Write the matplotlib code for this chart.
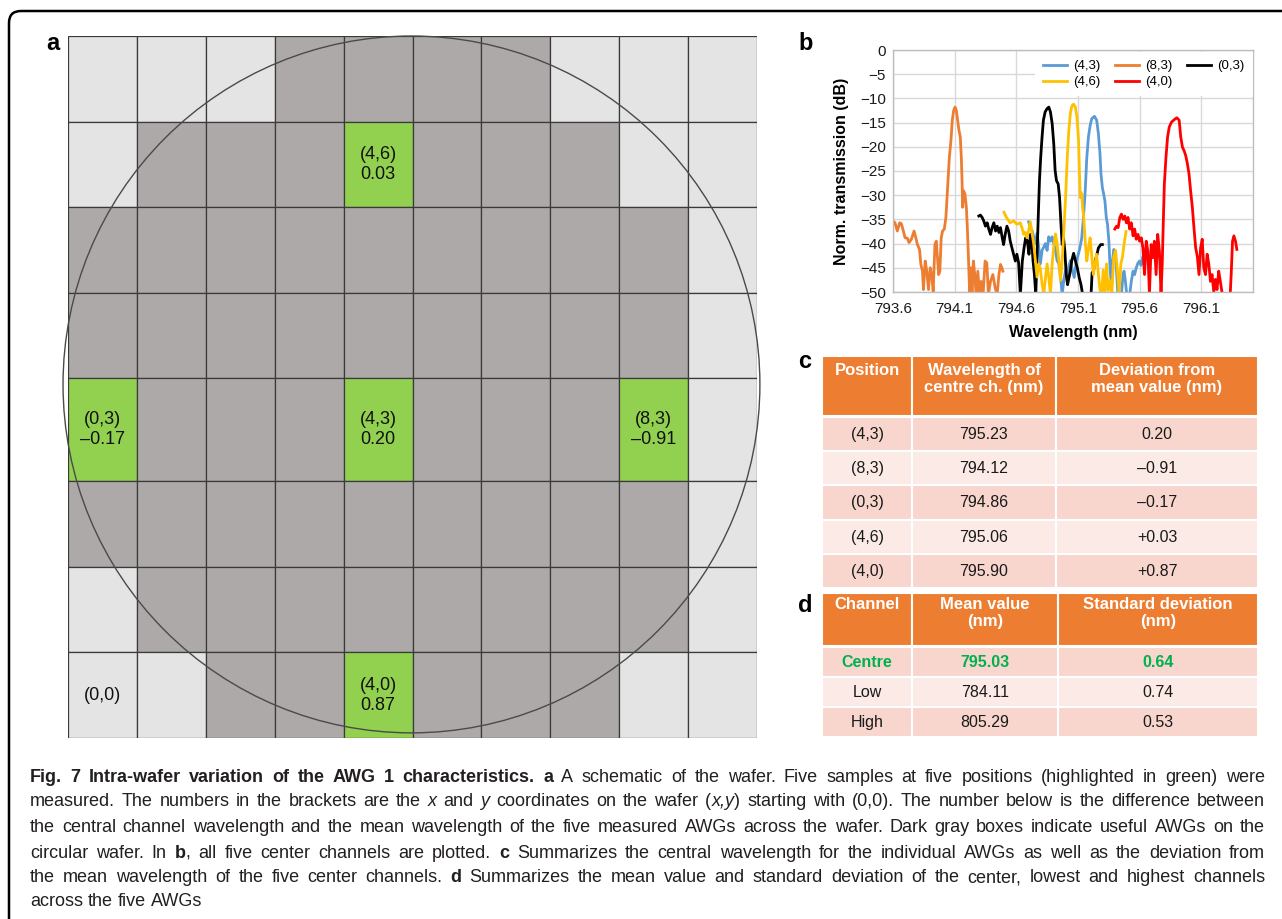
import re
import numpy as np
import matplotlib
matplotlib.use("Agg")
import matplotlib.pyplot as plt
from matplotlib.patches import Rectangle, Ellipse, FancyBboxPatch
from matplotlib.ticker import FormatStrFormatter, MultipleLocator

plt.rcParams['font.family'] = ['Liberation Sans', 'DejaVu Sans']

W, H = 1282, 919

# ---------------- panel a: wafer map (rows top -> bottom; L = unused, D = useful AWG, G = measured)
wafer_rows = [
    "LLLDDDDLLL",  # y = 7
    "LDDDGDDDLL",  # y = 6
    "DDDDDDDDDL",  # y = 5
    "DDDDDDDDDL",  # y = 4
    "GDDDGDDDGL",  # y = 3
    "DDDDDDDDDL",  # y = 2
    "LDDDDDDDDL",  # y = 1
    "LLDDGDDDLL",  # y = 0
]
row_heights = [1, 1, 1, 1.2, 1, 1, 1, 1]  # y = 0 .. 7

# ---------------- panel c
positions = ['(4,3)', '(8,3)', '(0,3)', '(4,6)', '(4,0)']
pos_x = [4, 8, 0, 4, 4]
pos_y = [3, 3, 3, 6, 0]
centre_wl = [795.23, 794.12, 794.86, 795.06, 795.90]
deviation = ['0.20', '–0.91', '–0.17', '+0.03', '+0.87']

# ---------------- panel d
channels = ['Centre', 'Low', 'High']
mean_wl = [795.03, 784.11, 805.29]
std_wl = [0.64, 0.74, 0.53]

# ---------------- panel b: spectra of the five centre channels
wl_43 = [794.700, 794.714, 794.728, 794.741, 794.755, 794.768, 794.782, 794.795, 794.809, 794.823,
         794.836, 794.850, 794.863, 794.877, 794.891, 794.904, 794.918, 794.931, 794.945, 794.959,
         794.972, 794.986, 795.000, 795.013, 795.027, 795.040, 795.054, 795.070, 795.085, 795.100,
         795.115, 795.130, 795.145, 795.159, 795.172, 795.185, 795.199, 795.212, 795.234, 795.252,
         795.266, 795.279, 795.287, 795.298, 795.309, 795.319, 795.330, 795.340, 795.351, 795.362,
         795.373, 795.380, 795.391, 795.402, 795.413, 795.424, 795.440, 795.453, 795.466, 795.474,
         795.485, 795.496, 795.510, 795.520, 795.533, 795.547, 795.560, 795.573, 795.587, 795.600,
         795.612, 795.625]
db_43 = [-35.5, -36.6, -37.3, -38.6, -40.0, -37.9, -40.7, -44.2, -41.4, -40.7,
         -40.0, -41.4, -38.6, -39.5, -38.6, -40.0, -41.4, -43.5, -44.2, -46.9,
         -50.5, -47.5, -45.5, -46.9, -44.5, -43.5, -45.5, -47.0, -44.0, -42.5,
         -41.0, -39.0, -34.6, -29.1, -22.2, -18.0, -15.6, -14.2, -13.7, -14.5,
         -17.3, -21.5, -25.6, -28.4, -29.8, -31.2, -34.6, -36.0, -39.5, -45.7,
         -48.5, -43.6, -41.2, -41.6, -45.7, -50.5, -51.5, -50.5, -46.4, -45.7,
         -47.8, -50.5, -51.0, -50.5, -47.8, -45.7, -46.4, -45.0, -44.0, -43.6,
         -44.5, -42.9]

wl_83 = [793.600, 793.616, 793.635, 793.654, 793.668, 793.684, 793.698, 793.717, 793.730, 793.749,
         793.771, 793.785, 793.798, 793.815, 793.826, 793.839, 793.847, 793.861, 793.874, 793.888,
         793.902, 793.915, 793.926, 793.940, 793.951, 793.961, 793.970, 793.980, 793.991, 794.002,
         794.016, 794.029, 794.043, 794.057, 794.070, 794.081, 794.092, 794.103, 794.114, 794.124,
         794.135, 794.146, 794.154, 794.160, 794.165, 794.173, 794.184, 794.195, 794.203, 794.211,
         794.222, 794.233, 794.241, 794.252, 794.263, 794.274, 794.288, 794.301, 794.315, 794.331,
         794.347, 794.361, 794.374, 794.391, 794.410, 794.429, 794.445, 794.459, 794.472, 794.483,
         794.491]
db_83 = [-35.3, -35.7, -37.4, -35.7, -35.9, -37.4, -38.8, -38.9, -39.8, -39.1,
         -37.4, -38.8, -40.2, -41.2, -44.3, -45.7, -49.5, -43.6, -45.7, -49.5,
         -45.0, -46.7, -49.9, -40.2, -39.5, -42.9, -46.4, -45.7, -38.8, -37.4,
         -37.0, -34.6, -28.4, -22.2, -18.7, -14.5, -12.5, -11.8, -12.5, -14.5,
         -16.6, -18.0, -22.2, -27.0, -32.5, -29.1, -29.8, -32.5, -36.7, -42.2,
         -50.5, -45.0, -50.2, -43.6, -46.4, -50.5, -45.7, -50.5, -47.8, -50.5,
         -43.6, -44.0, -50.5, -47.8, -46.4, -49.2, -50.5, -46.4, -44.3, -45.0,
         -45.7]

wl_03 = [794.296, 794.309, 794.323, 794.336, 794.350, 794.364, 794.377, 794.391, 794.404, 794.418,
         794.432, 794.445, 794.459, 794.472, 794.486, 794.497, 794.510, 794.524, 794.538, 794.551,
         794.565, 794.578, 794.592, 794.605, 794.619, 794.633, 794.649, 794.663, 794.676, 794.690,
         794.703, 794.714, 794.725, 794.736, 794.747, 794.758, 794.768, 794.777, 794.788, 794.798,
         794.809, 794.820, 794.834, 794.850, 794.864, 794.877, 794.891, 794.904, 794.915, 794.926,
         794.940, 794.951, 794.961, 794.972, 794.983, 794.994, 795.005, 795.016, 795.027, 795.038,
         795.050, 795.065, 795.080, 795.095, 795.110, 795.125, 795.138, 795.160, 795.190, 795.207,
         795.215, 795.226, 795.239, 795.252, 795.266, 795.285, 795.298]
db_03 = [-34.3, -34.1, -34.6, -35.3, -36.4, -35.7, -37.0, -38.1, -36.7, -35.7,
         -37.4, -36.4, -37.7, -36.7, -38.8, -40.2, -38.1, -36.4, -37.4, -39.5,
         -40.9, -42.2, -43.6, -42.2, -44.0, -50.5, -43.6, -40.9, -38.8, -39.5,
         -42.2, -38.1, -39.5, -43.6, -46.4, -50.5, -42.9, -35.3, -27.0, -22.2,
         -18.0, -14.5, -12.8, -12.1, -11.8, -12.8, -15.2, -19.4, -24.9, -27.0,
         -27.7, -30.5, -35.3, -40.2, -38.8, -41.6, -46.4, -48.5, -47.1, -45.7,
         -43.5, -42.0, -43.6, -45.0, -47.0, -48.5, -50.5, -52.0, -52.0, -50.2,
         -46.0, -45.7, -43.6, -42.5, -40.9, -40.2, -40.2]

wl_46 = [794.500, 794.520, 794.550, 794.578, 794.605, 794.632, 794.646, 794.660, 794.673, 794.687,
         794.700, 794.714, 794.728, 794.741, 794.755, 794.768, 794.782, 794.795, 794.809, 794.823,
         794.837, 794.850, 794.863, 794.877, 794.891, 794.904, 794.918, 794.931, 794.945, 794.959,
         794.972, 794.986, 795.000, 795.012, 795.025, 795.039, 795.052, 795.065, 795.079, 795.092,
         795.105, 795.112, 795.119, 795.126, 795.132, 795.139, 795.145, 795.159, 795.172, 795.185,
         795.199, 795.212, 795.225, 795.239, 795.252, 795.266, 795.279, 795.292, 795.305, 795.318,
         795.332, 795.345, 795.360, 795.375, 795.390, 795.405, 795.420, 795.434, 795.448, 795.461,
         795.475, 795.490]
db_46 = [-33.5, -34.6, -35.7, -35.3, -36.0, -35.7, -36.7, -38.1, -37.7, -38.8,
         -37.3, -35.5, -37.9, -40.0, -43.5, -46.9, -44.2, -45.2, -48.3, -50.5,
         -47.0, -44.2, -46.9, -50.5, -44.2, -40.7, -38.0, -40.0, -43.5, -47.6,
         -43.5, -37.3, -30.4, -23.0, -17.0, -13.0, -11.5, -11.2, -11.8, -13.9,
         -18.7, -25.0, -30.5, -29.5, -30.0, -33.0, -33.9, -39.5, -43.6, -41.0,
         -38.8, -42.5, -46.4, -44.0, -42.2, -46.4, -49.5, -50.5, -45.5, -50.5,
         -44.2, -49.7, -47.6, -50.5, -42.8, -41.4, -45.5, -50.5, -44.2, -42.8,
         -40.0, -37.5]

wl_40 = [795.399, 795.413, 795.426, 795.440, 795.453, 795.466, 795.480, 795.493, 795.506, 795.520,
         795.533, 795.547, 795.560, 795.573, 795.587, 795.600, 795.614, 795.627, 795.640, 795.654,
         795.667, 795.680, 795.694, 795.707, 795.720, 795.734, 795.747, 795.761, 795.774, 795.784,
         795.792, 795.801, 795.814, 795.827, 795.841, 795.859, 795.881, 795.902, 795.921, 795.934,
         795.948, 795.961, 795.974, 795.988, 796.001, 796.014, 796.028, 796.041, 796.055, 796.068,
         796.082, 796.095, 796.108, 796.121, 796.135, 796.148, 796.162, 796.175, 796.188, 796.202,
         796.215, 796.228, 796.242, 796.255, 796.268, 796.282, 796.300, 796.320, 796.335, 796.343,
         796.354, 796.365, 796.378, 796.389]
db_40 = [-37.0, -36.4, -36.7, -34.6, -33.9, -35.0, -34.3, -35.7, -34.6, -37.0,
         -35.7, -38.4, -37.0, -39.1, -38.1, -39.5, -38.8, -40.9, -46.4, -39.5,
         -41.6, -50.5, -40.2, -42.9, -39.5, -46.4, -38.1, -41.6, -50.5, -44.0,
         -36.0, -27.7, -22.2, -18.0, -15.9, -14.9, -14.4, -14.0, -14.5, -18.0,
         -20.1, -20.8, -21.8, -23.5, -25.6, -29.1, -32.5, -36.7, -40.9, -42.6,
         -46.4, -40.9, -39.1, -45.0, -46.4, -42.2, -44.3, -47.8, -46.4, -50.0,
         -47.4, -49.5, -45.7, -47.8, -50.0, -50.5, -53.0, -53.0, -50.5, -46.4,
         -39.5, -38.4, -39.5, -41.2]

series = [
    ('(4,3)', wl_43, db_43, '#5B9BD5'),
    ('(8,3)', wl_83, db_83, '#ED7D31'),
    ('(0,3)', wl_03, db_03, '#000000'),
    ('(4,6)', wl_46, db_46, '#FFC000'),
    ('(4,0)', wl_40, db_40, '#FF0000'),
]

caption_lines = [
    "**Fig. 7 Intra-wafer variation of the AWG 1 characteristics.** **a** A schematic of the wafer. Five samples at five positions (highlighted in green) were",
    "measured. The numbers in the brackets are the _x_ and _y_ coordinates on the wafer (_x,y_) starting with (0,0). The number below is the difference between",
    "the central channel wavelength and the mean wavelength of the five measured AWGs across the wafer. Dark gray boxes indicate useful AWGs on the",
    "circular wafer. In **b**, all five center channels are plotted. **c** Summarizes the central wavelength for the individual AWGs as well as the deviation from",
    "the mean wavelength of the five center channels. **d** Summarizes the mean value and standard deviation of the center, lowest and highest channels",
    "across the five AWGs",
]

fig = plt.figure(figsize=(W / 100, H / 100), dpi=100)


def px_axes(l, t, r, b):
    return fig.add_axes([l / W, 1 - b / H, (r - l) / W, (b - t) / H])


# overlay axes in pixel units for frame, tables and caption
ov = px_axes(0, 0, W, H)
ov.set_xlim(0, W)
ov.set_ylim(H, 0)
ov.axis('off')
ov.add_patch(FancyBboxPatch((9, 11), 1400, 1000, boxstyle='round,pad=0,rounding_size=12',
                            fc='none', ec='black', lw=1.8))

# panel letters
for s, x, y in [('a', 53, 44), ('b', 806, 43), ('c', 805, 362), ('d', 805, 605)]:
    ov.text(x, y, s, fontsize=17, fontweight='bold', ha='center', va='center')

# ---------------- panel a
ax_a = px_axes(68, 36, 757, 738)
n_cols = len(wafer_rows[0])
n_rows = len(wafer_rows)
row_bottom = np.concatenate([[0], np.cumsum(row_heights)])
total = row_bottom[-1]
ax_a.set_xlim(0, n_cols)
ax_a.set_ylim(0, total)
ax_a.axis('off')
cell_colors = {'L': '#E4E4E4', 'D': '#ADA9A8', 'G': '#92D050'}
for i, row in enumerate(wafer_rows):
    y = n_rows - 1 - i
    for x, c in enumerate(row):
        ax_a.add_patch(Rectangle((x, row_bottom[y]), 1, row_heights[y], fc=cell_colors[c],
                                 ec='#3a3a3a', lw=0.9))
sx = 689 / n_cols
sy = 702 / total
ry = total / 2 - 0.03
rx = ry * sy / sx
ax_a.add_patch(Ellipse((n_cols / 2 - 0.015, total / 2 + 0.03), 2 * rx, 2 * ry, fill=False,
                       ec='#4a4a4a', lw=1.0, clip_on=False))
for p, x, y, d in zip(positions, pos_x, pos_y, deviation):
    ax_a.text(x + 0.5, row_bottom[y] + row_heights[y] / 2, f"{p}\n{d.lstrip('+')}",
              ha='center', va='center', fontsize=13, linespacing=1.25, color='#111111')
ax_a.text(0.5, row_bottom[0] + row_heights[0] / 2, '(0,0)', ha='center', va='center',
          fontsize=13, color='#111111')

# ---------------- panel b
ax_b = px_axes(893, 50, 1253, 292)
lines = []
for name, wl, db, col in series:
    ln, = ax_b.plot(wl, db, color=col, lw=2.0, label=name, solid_joinstyle='round')
    lines.append(ln)
ax_b.set_xlim(793.6, 796.52)
ax_b.set_ylim(-50, 0)
ax_b.xaxis.set_major_locator(MultipleLocator(0.5))
ax_b.set_xticks([793.6, 794.1, 794.6, 795.1, 795.6, 796.1])
ax_b.xaxis.set_major_formatter(FormatStrFormatter('%.1f'))
ax_b.yaxis.set_major_locator(MultipleLocator(5))
ax_b.grid(True, color='#D9D9D9', lw=1.0)
ax_b.set_axisbelow(True)
for sp in ax_b.spines.values():
    sp.set_color('#BDBDBD')
    sp.set_linewidth(1.0)
ax_b.tick_params(length=0, labelsize=11, colors='#1a1a1a', pad=5)
ax_b.tick_params(axis='x', pad=7)
ax_b.set_xlabel('Wavelength (nm)', fontsize=11.5, fontweight='bold')
ax_b.set_ylabel('Norm. transmission (dB)', fontsize=11.5, fontweight='bold')
ax_b.xaxis.set_label_coords(0.5, -0.135)
ax_b.yaxis.set_label_coords(-0.122, 0.5)
order = [0, 3, 1, 4, 2]
leg = ax_b.legend([lines[i] for i in order], [series[i][0] for i in order], ncol=3,
                  loc='upper left', bbox_to_anchor=(1035 / W, 1 - 52 / H),
                  bbox_transform=fig.transFigure, fontsize=9.5, handlelength=1.8,
                  handletextpad=0.5, columnspacing=1.1, labelspacing=0.3, borderpad=0.6,
                  borderaxespad=0, fancybox=False, framealpha=1)
leg.get_frame().set_edgecolor('none')
leg.get_frame().set_facecolor('white')

# ---------------- tables c and d
HEAD = '#ED7D31'
ROW_DARK = '#F8D6CD'
ROW_LIGHT = '#FBEAE5'


def draw_table(x_edges, head_top, head_bot, first_line_y, headers, body_top, row_h, rows,
               row_styles):
    for j in range(len(x_edges) - 1):
        ov.add_patch(Rectangle((x_edges[j], head_top), x_edges[j + 1] - x_edges[j],
                               head_bot - head_top, fc=HEAD, ec='white', lw=1.5))
        ov.text((x_edges[j] + x_edges[j + 1]) / 2, first_line_y, headers[j], ha='center',
                va='center_baseline', fontsize=12, fontweight='bold', color='white',
                linespacing=1.25, multialignment='center')
    for i, row in enumerate(rows):
        top = body_top + i * row_h
        fc = ROW_DARK if i % 2 == 0 else ROW_LIGHT
        for j, val in enumerate(row):
            ov.add_patch(Rectangle((x_edges[j], top), x_edges[j + 1] - x_edges[j], row_h,
                                   fc=fc, ec='white', lw=1.5))
            ov.text((x_edges[j] + x_edges[j + 1]) / 2, top + row_h / 2, val, ha='center',
                    va='center', **row_styles[i])


def header_text(lines_):
    return '\n'.join(lines_)


# position the first header line; multi-line texts are top aligned via offset
def add_headers_top(x_edges, y_top, headers):
    for j, h in enumerate(headers):
        ov.text((x_edges[j] + x_edges[j + 1]) / 2, y_top, h, ha='center', va='top',
                fontsize=12, fontweight='bold', color='white', linespacing=1.2,
                multialignment='center')


c_edges = [822, 912, 1056, 1258]
c_rows = [[p, f'{w:.2f}', d] for p, w, d in zip(positions, centre_wl, deviation)]
plain = dict(fontsize=11.5, color='#1a1a1a')
for j in range(3):
    ov.add_patch(Rectangle((c_edges[j], 356), c_edges[j + 1] - c_edges[j], 60, fc=HEAD,
                           ec='white', lw=1.5))
add_headers_top(c_edges, 363, ['Position', 'Wavelength of\ncentre ch. (nm)',
                               'Deviation from\nmean value (nm)'])
for i, row in enumerate(c_rows):
    top = 417 + i * 34.2
    fc = ROW_DARK if i % 2 == 0 else ROW_LIGHT
    for j, val in enumerate(row):
        ov.add_patch(Rectangle((c_edges[j], top), c_edges[j + 1] - c_edges[j], 34.2, fc=fc,
                               ec='white', lw=1.5))
        ov.text((c_edges[j] + c_edges[j + 1]) / 2, top + 17.5, val, ha='center', va='center',
                **plain)

d_edges = [822, 912, 1058, 1258]
d_rows = [[c, f'{m:.2f}', f'{s:.2f}'] for c, m, s in zip(channels, mean_wl, std_wl)]
for j in range(3):
    ov.add_patch(Rectangle((d_edges[j], 593), d_edges[j + 1] - d_edges[j], 53, fc=HEAD,
                           ec='white', lw=1.5))
add_headers_top(d_edges, 597, ['Channel', 'Mean value\n(nm)', 'Standard deviation\n(nm)'])
for i, row in enumerate(d_rows):
    top = 647 + i * 30
    fc = ROW_DARK if i % 2 == 0 else ROW_LIGHT
    style = dict(fontsize=11.5, color='#00B050', fontweight='bold') if i == 0 else plain
    for j, val in enumerate(row):
        ov.add_patch(Rectangle((d_edges[j], top), d_edges[j + 1] - d_edges[j], 30, fc=fc,
                               ec='white', lw=1.5))
        ov.text((d_edges[j] + d_edges[j + 1]) / 2, top + 15.5, val, ha='center', va='center',
                **style)

# ---------------- caption (justified)
CAP_FONT = ['Liberation Sans Narrow', 'Liberation Sans', 'DejaVu Sans']
cap_size = 13.0
cap_left, cap_right = 30, 1265
cap_y = [775, 800, 826, 851, 876, 900]


def parse_words(line):
    words = [[]]
    for seg in re.split(r'(\*\*.+?\*\*|_.+?_)', line):
        if not seg:
            continue
        if seg.startswith('**'):
            style, s = 'b', seg[2:-2]
        elif seg.startswith('_') and seg.endswith('_') and len(seg) > 1:
            style, s = 'i', seg[1:-1]
        else:
            style, s = 'r', seg
        for k, part in enumerate(s.split(' ')):
            if k > 0:
                words.append([])
            if part:
                words[-1].append((part, style))
    return [w for w in words if w]


def style_kw(style, size):
    kw = dict(family=CAP_FONT, fontsize=size, color='#231F20')
    if style == 'b':
        kw['fontweight'] = 'bold'
    if style == 'i':
        kw['fontstyle'] = 'italic'
    return kw


renderer = fig.canvas.get_renderer()


def text_width(s, style, size):
    t = ov.text(0, 0, s, **style_kw(style, size))
    w = t.get_window_extent(renderer).width
    t.remove()
    return w


parsed = [parse_words(l) for l in caption_lines]
space_w = text_width('a a', 'r', cap_size) - 2 * text_width('a', 'r', cap_size)
natural = []
for words in parsed:
    ws = [sum(text_width(p, st, cap_size) for p, st in w) for w in words]
    natural.append(sum(ws) + space_w * (len(ws) - 1))
max_nat = max(natural)
if max_nat > (cap_right - cap_left):
    cap_size *= (cap_right - cap_left) / max_nat * 0.99

for li, (words, y) in enumerate(zip(parsed, cap_y)):
    widths = [[text_width(p, st, cap_size) for p, st in w] for w in words]
    tot = sum(sum(w) for w in widths)
    if li < len(parsed) - 1 and len(words) > 1:
        gap = (cap_right - cap_left - tot) / (len(words) - 1)
    else:
        gap = text_width('a a', 'r', cap_size) - 2 * text_width('a', 'r', cap_size)
    x = cap_left
    for w, wl in zip(words, widths):
        for (p, st), pw in zip(w, wl):
            ov.text(x, y, p, ha='left', va='center_baseline', **style_kw(st, cap_size))
            x += pw
        x += gap

fig.savefig('out.png', dpi=100)
